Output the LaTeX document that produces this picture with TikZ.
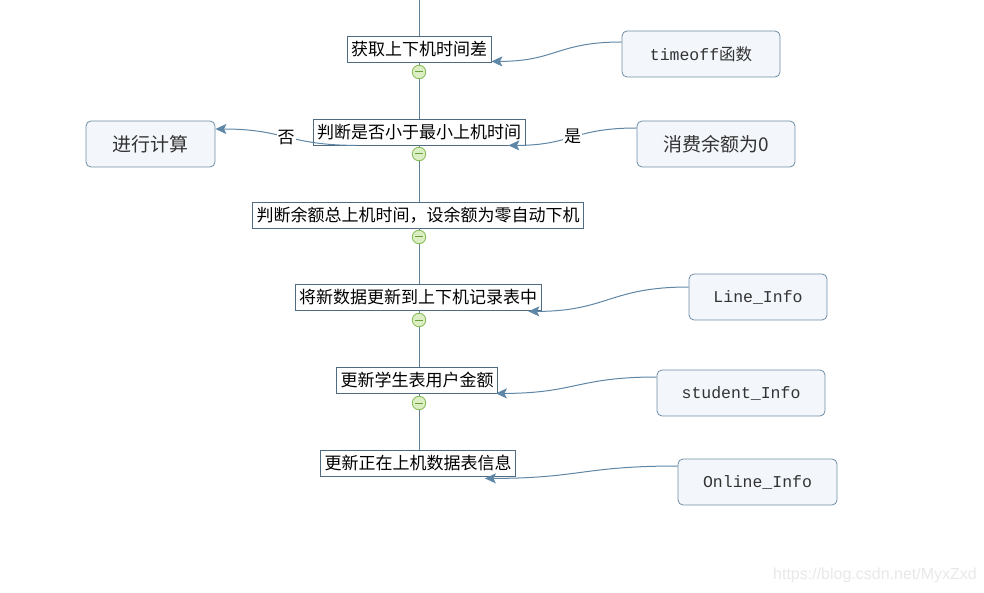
\documentclass[tikz,border=0pt]{standalone}
\usepackage{fontspec}
\setmainfont{Noto Sans CJK SC}
\setmonofont{Liberation Mono}
\newfontfamily\wmfont{Liberation Sans}
\usetikzlibrary{arrows.meta}
\definecolor{edge}{HTML}{5E86A6}
\definecolor{boxline}{HTML}{4F6B82}
\definecolor{rfill}{HTML}{F3F7FB}
\definecolor{rline}{HTML}{6E8DA6}
\definecolor{rtext}{HTML}{333333}
\definecolor{cfill}{HTML}{DCEFC4}
\definecolor{cline}{HTML}{8ABD5B}
\definecolor{cminus}{HTML}{6A9C3E}
\definecolor{trunk}{HTML}{5F7F96}
\begin{document}
\begin{tikzpicture}[x=1pt,y=-1pt,
  stepbox/.style={draw=boxline, fill=white, line width=0.8pt, inner xsep=4pt, inner ysep=0pt,
    minimum height=26pt, font=\fontsize{17}{17}\selectfont, text=black},
  src/.style={draw=rline, fill=rfill, rounded corners=5pt, line width=0.8pt, minimum height=46pt,
    text=rtext, inner sep=0pt},
  srccn/.style={src, font=\fontsize{19}{19}\selectfont},
  srctt/.style={src, font=\fontsize{16.5}{16.5}\selectfont\ttfamily},
  link/.style={draw=edge, line width=1pt, looseness=1.25, -{Stealth[length=11pt,width=10pt,inset=2.5pt]}},
  trunkline/.style={draw=trunk, line width=1pt},
  circ/.style={circle, draw=cline, fill=cfill, minimum size=13.5pt, inner sep=0pt, line width=0.9pt,
    path picture={\draw[cminus, line width=1pt]
      ([xshift=-4pt]path picture bounding box.center) -- ([xshift=4pt]path picture bounding box.center);}},
  lbl/.style={fill=white, inner sep=1pt, font=\fontsize{17}{17}\selectfont, text=black}
]
\useasboundingbox (0,0) rectangle (984,593);

% main steps
\coordinate (top) at (419,0);
\node[stepbox] (b1) at (419,49) {获取上下机时间差};
\node[stepbox] (b2) at (419,132) {判断是否小于最小上机时间};
\node[stepbox] (b3) at (418,215) {判断余额总上机时间，设余额为零自动下机};
\node[stepbox] (b4) at (418,297) {将新数据更新到上下机记录表中};
\node[stepbox] (b5) at (417,380) {更新学生表用户金额};
\node[stepbox] (b6) at (418,463) {更新正在上机数据表信息};

% trunk
\draw[trunkline] (top) -- (top |- b1.north);
\draw[trunkline] (top |- b1.south) -- (top |- b2.north);
\draw[trunkline] (top |- b2.south) -- (top |- b3.north);
\draw[trunkline] (top |- b3.south) -- (top |- b4.north);
\draw[trunkline] (top |- b4.south) -- (top |- b5.north);
\draw[trunkline] (top |- b5.south) -- (top |- b6.north);

% collapse circles
\node[circ] (c1) at (419,72) {};
\node[circ] (c2) at (419,154) {};
\node[circ] (c3) at (419,237) {};
\node[circ] (c4) at (419,320) {};
\node[circ] (c5) at (419,403) {};

% side boxes
\node[srctt, minimum width=158pt] (t1) at (701,54) {timeoff{\rmfamily 函数}};
\node[srccn, minimum width=158pt] (t2) at (716,144) {消费余额为0};
\node[srccn, minimum width=129pt] (calc) at (150.5,144) {进行计算};
\node[srctt, minimum width=138pt] (t3) at (758,297) {Line\_Info};
\node[srctt, minimum width=168pt] (t4) at (741,393) {student\_Info};
\node[srctt, minimum width=159pt] (t5) at (757.5,482) {Online\_Info};

% connectors
\draw[link] ([yshift=12pt]t1.west) to[out=180,in=0] ([yshift=1pt]b1.south east);
\draw[link] ([yshift=16pt]t2.west) to[out=180,in=0]
  node[lbl, pos=0.5] (yes) {是} ([xshift=-17pt]b2.south east);
\draw[link] ([xshift=-62pt]b2.south) to[out=180,in=0]
  node[lbl, pos=0.5] (no) {否} ([yshift=15pt]calc.east);
\draw[link] ([yshift=10pt]t3.west) to[out=180,in=0] ([xshift=-13pt,yshift=-1pt]b4.south east);
\draw[link] ([yshift=16pt]t4.west) to[out=180,in=0] ([xshift=-2pt]b5.south east);
\draw[link] ([yshift=16pt]t5.west) to[out=180,in=0] ([xshift=-31pt,yshift=-2pt]b6.south east);

% watermark
\node[font=\wmfont\fontsize{16}{16}\selectfont, text=black!9] (wm) at (875,575) {https://blog.csdn.net/MyxZxd};
\end{tikzpicture}
\end{document}
